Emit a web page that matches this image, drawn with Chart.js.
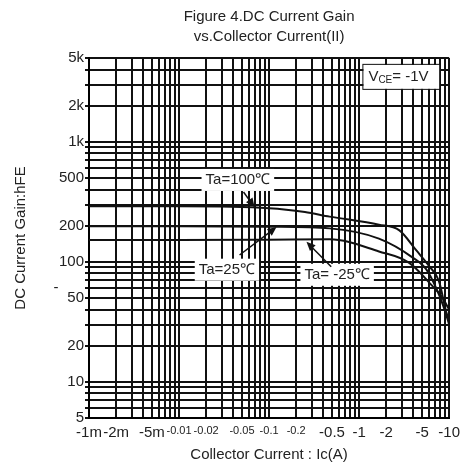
<!DOCTYPE html>
<html>
<head>
<meta charset="utf-8">
<script src="https://cdn.jsdelivr.net/npm/chart.js@4.4.1/dist/chart.umd.min.js"></script>
<style>
  body { margin: 0; background: #fff; }
  #wrap { width: 466px; height: 468px; }
</style>
</head>
<body>
<div id="wrap"><canvas id="dis" width="466" height="468"></canvas></div>
<script>
// hFE vs Ic at Vce = -1V. Ic is plotted as magnitude, ticks carry the minus sign.
const ic100 = [0.001, 0.01, 0.1, 0.25, 0.47, 1.66, 2.8, 4.3, 6.0, 7.7, 9.3, 10];
const hfe100 = [290, 290, 280, 260, 238, 204, 183, 125, 92, 69, 38, 33];
const ic25 = [0.001, 0.01, 0.1, 0.47, 1.66, 3.9, 5.6, 7.2, 8.8, 10];
const hfe25 = [198, 198, 196, 190, 156, 109, 86, 60, 41, 30];
const icM25 = [0.001, 0.01, 0.1, 0.47, 1.66, 3.6, 6.5, 8.3, 10];
const hfeM25 = [152, 152, 153, 154, 122, 98, 63, 51, 40];

const xTickVals = [0.001, 0.002, 0.005, 0.01, 0.02, 0.05, 0.1, 0.2, 0.5, 1, 2, 5, 10];
const xTickLabels = ['-1m', '-2m', '-5m', '-0.01', '-0.02', '-0.05', '-0.1', '-0.2', '-0.5', '-1', '-2', '-5', '-10'];
const yTickVals = [5, 10, 20, 50, 100, 200, 500, 1000, 2000, 5000];
const yTickLabels = ['5', '10', '20', '50', '100', '200', '500', '1k', '2k', '5k'];

// curve notes: text, where the text sits, arrow start and arrow tip (data units)
const noteText = ['Ta=100℃', 'Ta=25℃', 'Ta= -25℃'];
const noteAt = [[0.045, 481], [0.034, 86], [0.57, 78]];
const arrowFrom = [[0.052, 382], [0.047, 114], [0.49, 91]];
const arrowTo = [[0.069, 285], [0.121, 195], [0.26, 147]];
const vceAt = [2.8, 3475];

const FONT = '"Liberation Sans", Arial, sans-serif';

// every 1..9 x decade gets a grid line
function decadeGrid(lo, hi) {
  const out = [];
  for (let e = Math.floor(Math.log10(lo) + 1e-9); e <= Math.ceil(Math.log10(hi) - 1e-9); e++) {
    for (let m = 1; m < 10; m++) {
      const v = +(m * Math.pow(10, e)).toPrecision(3);
      if (v >= lo * (1 - 1e-9) && v <= hi * (1 + 1e-9)) out.push(v);
    }
  }
  return out;
}
function labelFor(v, vals, labels) {
  const i = vals.findIndex(t => Math.abs(t - v) / t < 1e-6);
  return i < 0 ? '' : labels[i];
}
function pts(xs, ys) {
  return xs.map((x, i) => ({ x: x, y: ys[i] }));
}

const notesPlugin = {
  id: 'notes',
  beforeDatasetsDraw(chart) {
    const { ctx, scales: { x, y } } = chart;
    ctx.save();
    ctx.textAlign = 'center';
    ctx.textBaseline = 'middle';
    ctx.font = '15px ' + FONT;
    noteText.forEach((t, i) => {
      const px = x.getPixelForValue(noteAt[i][0]);
      const py = y.getPixelForValue(noteAt[i][1]);
      const w = ctx.measureText(t).width + 8;
      ctx.fillStyle = '#fff';
      ctx.fillRect(px - w / 2, py - 11, w, 22);
      ctx.fillStyle = '#222';
      ctx.fillText(t, px, py);
    });

    // Vce box
    const vx = x.getPixelForValue(vceAt[0]);
    const vy = y.getPixelForValue(vceAt[1]);
    ctx.fillStyle = '#fff';
    ctx.fillRect(vx - 36, vy - 12, 76, 24);
    ctx.strokeStyle = '#111';
    ctx.lineWidth = 1;
    ctx.strokeRect(vx - 36.5, vy - 12.5, 77, 25);
    ctx.textAlign = 'left';
    ctx.fillStyle = '#222';
    let cx = vx - 31;
    ctx.font = '15px ' + FONT;
    ctx.fillText('V', cx, vy);
    cx += ctx.measureText('V').width;
    ctx.font = '10px ' + FONT;
    ctx.fillText('CE', cx, vy + 3);
    cx += ctx.measureText('CE').width;
    ctx.font = '15px ' + FONT;
    ctx.fillText('= -1V', cx, vy);

    // stray dash next to the y axis in the original
    ctx.textAlign = 'center';
    ctx.fillText('-', chart.chartArea.left - 33, y.getPixelForValue(61));
    ctx.restore();
  },
  afterDatasetsDraw(chart) {
    const { ctx, scales: { x, y } } = chart;
    ctx.save();
    ctx.strokeStyle = '#111';
    ctx.fillStyle = '#111';
    ctx.lineWidth = 1.5;
    arrowFrom.forEach((f, i) => {
      const x0 = x.getPixelForValue(f[0]), y0 = y.getPixelForValue(f[1]);
      const x1 = x.getPixelForValue(arrowTo[i][0]), y1 = y.getPixelForValue(arrowTo[i][1]);
      const a = Math.atan2(y1 - y0, x1 - x0);
      ctx.beginPath();
      ctx.moveTo(x0, y0);
      ctx.lineTo(x1 - 6 * Math.cos(a), y1 - 6 * Math.sin(a));
      ctx.stroke();
      ctx.beginPath();
      ctx.moveTo(x1, y1);
      ctx.lineTo(x1 - 9 * Math.cos(a) + 4 * Math.sin(a), y1 - 9 * Math.sin(a) - 4 * Math.cos(a));
      ctx.lineTo(x1 - 9 * Math.cos(a) - 4 * Math.sin(a), y1 - 9 * Math.sin(a) + 4 * Math.cos(a));
      ctx.closePath();
      ctx.fill();
    });
    ctx.restore();
  }
};

window.onload = function() {
  const ctx = document.querySelector('#dis');
  const lineStyle = {
    borderColor: '#111',
    borderWidth: 2,
    pointRadius: 0,
    fill: false,
    cubicInterpolationMode: 'monotone'
  };

  const hfeChart = new Chart(ctx, {
    type: 'line',
    data: {
      datasets: [
        Object.assign({ label: 'Ta=100℃', data: pts(ic100, hfe100) }, lineStyle),
        Object.assign({ label: 'Ta=25℃', data: pts(ic25, hfe25) }, lineStyle),
        Object.assign({ label: 'Ta=-25℃', data: pts(icM25, hfeM25) }, lineStyle)
      ]
    },
    options: {
      responsive: false,
      animation: false,
      layout: { padding: { left: 0, right: 16, top: 0, bottom: 0 } },
      plugins: {
        legend: { display: false },
        tooltip: { enabled: false },
        title: {
          display: true,
          fullSize: false,
          text: ['Figure 4.DC Current Gain', 'vs.Collector Current(II)'],
          color: '#222',
          font: { family: FONT, size: 15, weight: 'normal', lineHeight: 1.33 },
          padding: { top: 7, bottom: 11 }
        }
      },
      scales: {
        x: {
          type: 'logarithmic',
          min: 0.001,
          max: 10,
          afterBuildTicks: s => { s.ticks = decadeGrid(0.001, 10).map(v => ({ value: v })); },
          afterFit: s => { s.height = 50; },
          border: { color: '#000', width: 2 },
          grid: { color: '#111', lineWidth: 2, drawTicks: false },
          ticks: {
            autoSkip: false,
            maxRotation: 0,
            minRotation: 0,
            padding: 6,
            color: '#222',
            font: c => {
              const v = c.tick ? c.tick.value : 1;
              return { family: FONT, size: (v >= 0.01 && v <= 0.2) ? 11 : 15 };
            },
            callback: v => labelFor(v, xTickVals, xTickLabels)
          },
          title: {
            display: true,
            text: 'Collector Current : Ic(A)',
            color: '#222',
            font: { family: FONT, size: 15 },
            padding: { top: 0, bottom: 4 }
          }
        },
        y: {
          type: 'logarithmic',
          min: 5,
          max: 5000,
          afterBuildTicks: s => { s.ticks = decadeGrid(5, 5000).map(v => ({ value: v })); },
          afterFit: s => { s.width = 89; },
          border: { color: '#000', width: 2 },
          grid: { color: '#111', lineWidth: 2, tickLength: 4 },
          ticks: {
            autoSkip: false,
            padding: 1,
            color: '#222',
            font: { family: FONT, size: 15 },
            callback: v => labelFor(v, yTickVals, yTickLabels)
          },
          title: {
            display: true,
            text: 'DC Current Gain:hFE',
            color: '#222',
            font: { family: FONT, size: 15 },
            padding: { top: 12, bottom: 0 }
          }
        }
      }
    },
    plugins: [notesPlugin]
  });
}; //end window onload
</script>
</body>
</html>
